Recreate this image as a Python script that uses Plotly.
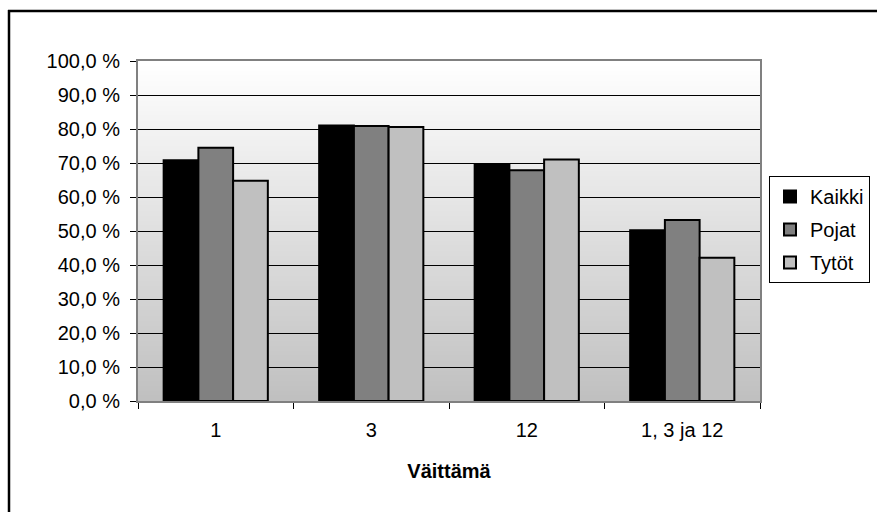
import plotly.graph_objects as go

categories = ["1", "3", "12", "1, 3 ja 12"]
kaikki = [70.8, 81.0, 69.6, 50.2]
pojat = [74.5, 80.9, 67.9, 53.2]
tytot = [64.8, 80.6, 71.0, 42.1]
series_names = ["Kaikki", "Pojat", "Tytöt"]
series_colors = ["#000000", "#808080", "#c0c0c0"]
ytick_vals = [0, 10, 20, 30, 40, 50, 60, 70, 80, 90, 100]
ytick_text = ["0,0 %", "10,0 %", "20,0 %", "30,0 %", "40,0 %", "50,0 %",
              "60,0 %", "70,0 %", "80,0 %", "90,0 %", "100,0 %"]
x_title = "Väittämä"

W, H = 877, 512
ML, MR, MT, MB = 138, 117, 61, 111
PW = W - ML - MR
PH = H - MT - MB
FONT = "Liberation Sans, Arial, sans-serif"

fig = go.Figure()
for name, vals, col in zip(series_names, [kaikki, pojat, tytot], series_colors):
    fig.add_trace(go.Bar(
        x=categories, y=vals, name=name, legendgroup=name,
        marker=dict(color=col, line=dict(color="#000000", width=2)),
    ))

# gradient background of plot area (white at top to grey at bottom)
shapes = []
n = 68
for i in range(n):
    t = (i + 0.5) / n  # 0 at top, 1 at bottom
    v = int(round(255 - (255 - 192) * t))
    y1 = 1 - i / n
    y0 = 1 - (i + 1) / n
    shapes.append(dict(type="rect", xref="paper", yref="paper",
                       x0=0, x1=1, y0=y0 - 0.001, y1=y1 + 0.001,
                       fillcolor=f"rgb({v},{v},{v})", line=dict(width=0),
                       layer="below"))


def px_to_paper_x(px):
    return (px - ML) / PW


def px_to_paper_y(py):
    return (H - MB - py) / PH


# outer chart border (top and left edges visible)
shapes.append(dict(type="line", xref="paper", yref="paper",
                   x0=px_to_paper_x(8), x1=px_to_paper_x(880),
                   y0=px_to_paper_y(11), y1=px_to_paper_y(11),
                   line=dict(color="#000000", width=2.5), layer="above"))
shapes.append(dict(type="line", xref="paper", yref="paper",
                   x0=px_to_paper_x(9), x1=px_to_paper_x(9),
                   y0=px_to_paper_y(10), y1=px_to_paper_y(520),
                   line=dict(color="#000000", width=2.5), layer="above"))

fig.update_layout(
    width=W, height=H,
    margin=dict(l=ML, r=MR, t=MT, b=MB, pad=0, autoexpand=False),
    paper_bgcolor="#ffffff",
    plot_bgcolor="rgba(0,0,0,0)",
    font=dict(family=FONT, color="#000000", size=20),
    barmode="group",
    bargap=0.33,
    bargroupgap=0,
    shapes=shapes,
    showlegend=True,
    legend=dict(
        x=px_to_paper_x(870), y=px_to_paper_y(176),
        xanchor="right", yanchor="top",
        bgcolor="#ffffff", bordercolor="#000000", borderwidth=1,
        font=dict(size=20, family=FONT),
        itemwidth=30,
        traceorder="grouped",
        tracegroupgap=4,
    ),
    xaxis=dict(
        type="category",
        showgrid=False,
        showline=True, linecolor="#808080", linewidth=2, mirror=True,
        ticks="outside", tickson="boundaries", ticklen=6, tickcolor="#000000",
        tickwidth=1,
        tickfont=dict(size=20),
        ticklabelstandoff=10,
        title=dict(text="<b>" + x_title + "</b>", font=dict(size=20), standoff=24),
    ),
    yaxis=dict(
        range=[0, 100],
        tickvals=ytick_vals, ticktext=ytick_text,
        showgrid=True, gridcolor="#000000", gridwidth=1,
        zeroline=False,
        showline=True, linecolor="#808080", linewidth=2, mirror=True,
        ticks="outside", ticklen=6, tickcolor="#000000", tickwidth=1,
        tickfont=dict(size=20),
        ticklabelstandoff=6,
    ),
)

fig.write_html("out.html")
